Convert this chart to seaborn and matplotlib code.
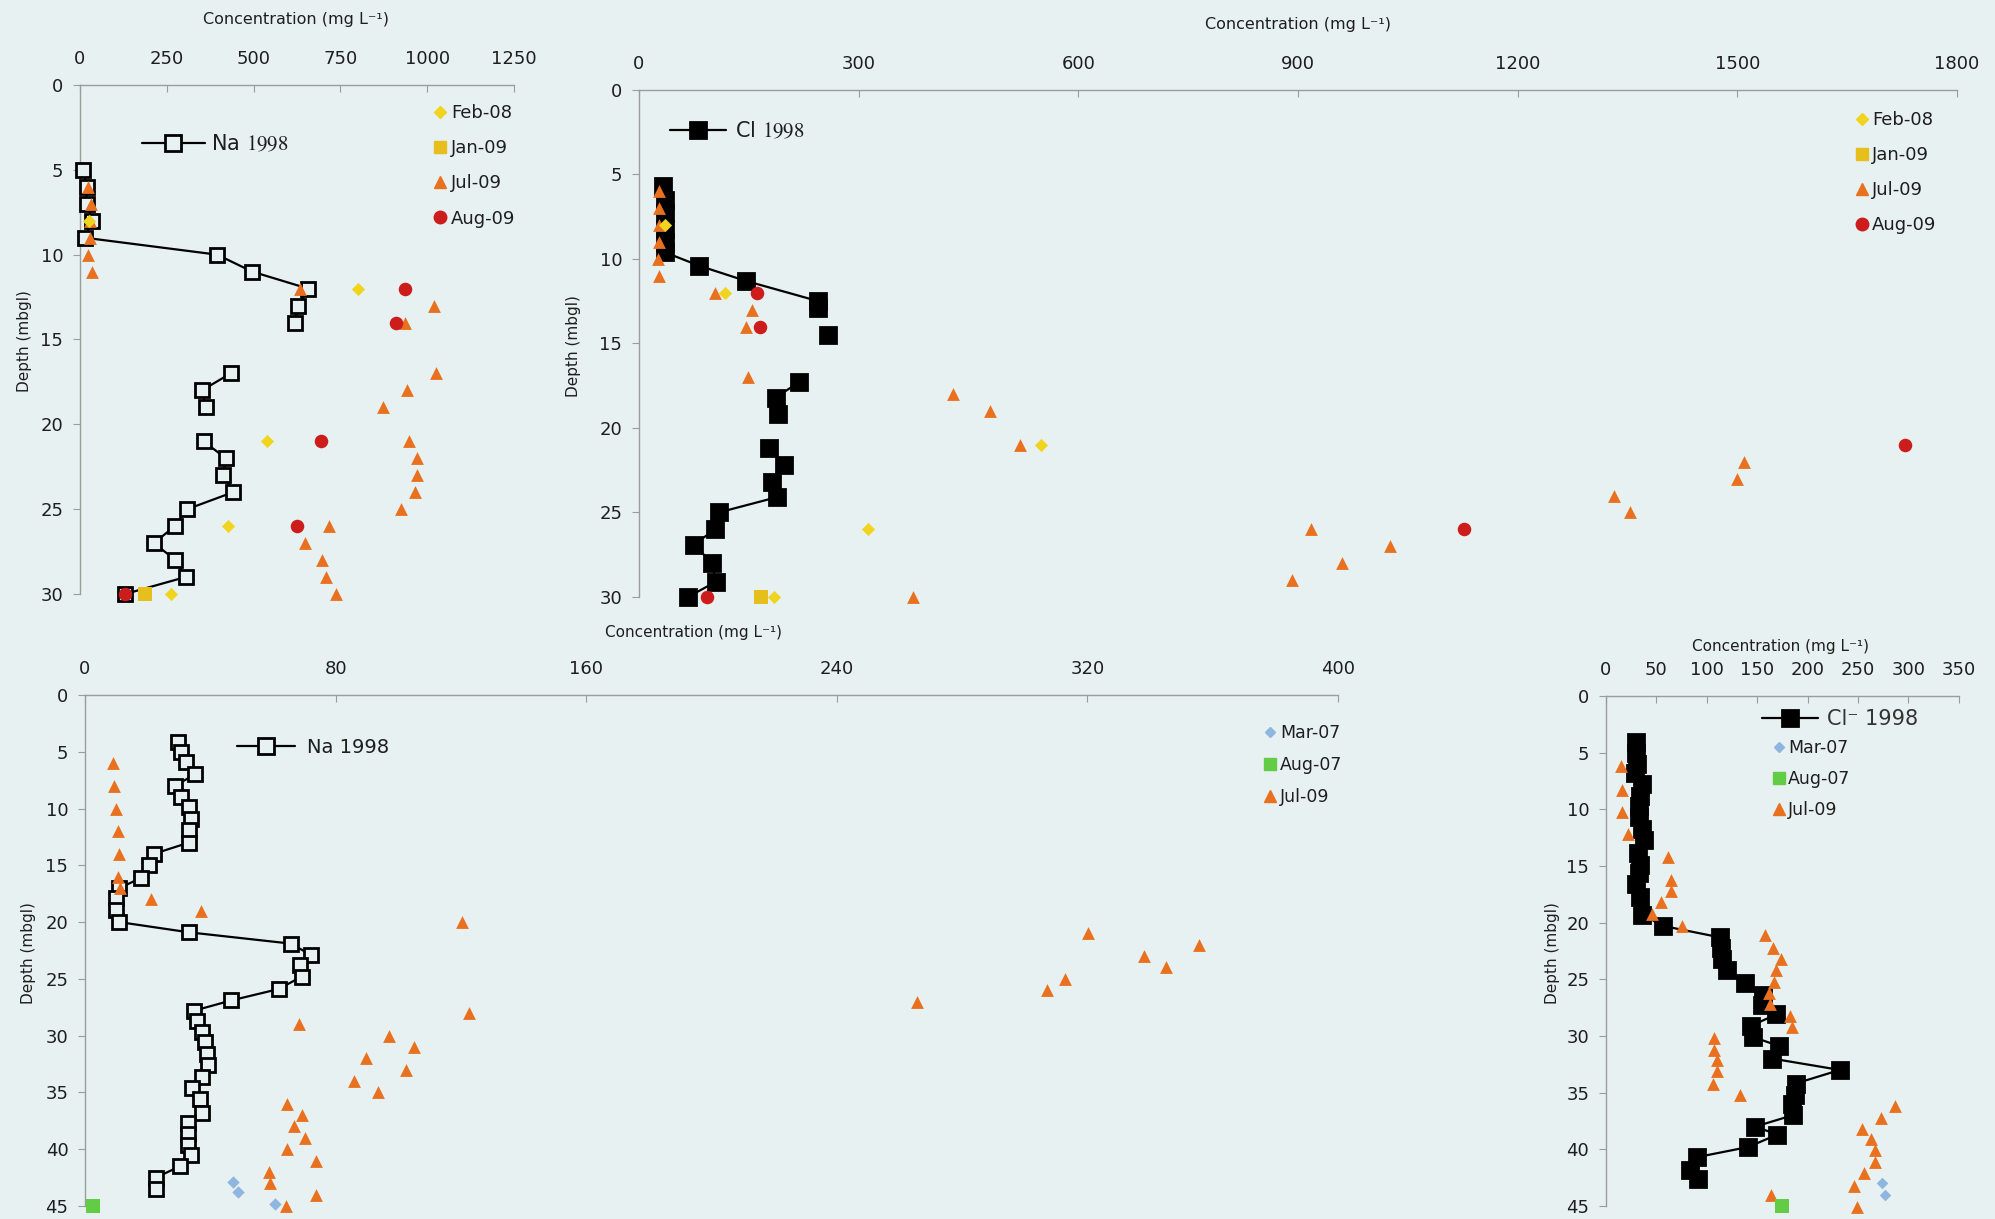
import numpy as np
import matplotlib
matplotlib.use("Agg")
import matplotlib.pyplot as plt
import seaborn as sns
from matplotlib.lines import Line2D
from matplotlib import font_manager as fm

nan = np.nan

# ---------------- Panel 1 : Na, well A (top left) ----------------
na1_depth = [5, 6, 7, 8, 9, 10, 11, 12, 13, 14, 15.5, 17, 18, 19, 20, 21, 22, 23, 24, 25, 26, 27, 28, 29, 30]
na1_conc = [10, 19, 19, 36, 13, 395, 496, 657, 628, 620, nan, 434, 351, 363, nan, 356, 420, 413, 441, 309, 273, 213, 275, 304, 130]
na1_feb08_depth = [8, 12, 21, 26, 30]
na1_feb08_conc = [25, 800, 540, 426, 262]
na1_jan09_depth = [30]
na1_jan09_conc = [187]
na1_jul09_depth = [6, 7, 8, 9, 10, 11, 12, 13, 14, 17, 18, 19, 21, 22, 23, 24, 25, 26, 27, 28, 29, 30]
na1_jul09_conc = [22, 32, 29, 29, 22, 34, 634, 1020, 935, 1025, 942, 872, 949, 970, 970, 966, 926, 717, 648, 698, 708, 737]
na1_aug09_depth = [12, 14, 21, 26, 30]
na1_aug09_conc = [937, 911, 693, 626, 130]

# ---------------- Panel 2 : Cl, well A (top right) ----------------
cl1_depth = [5.7, 6.5, 7.3, 8.2, 9.0, 9.6, 10.4, 11.3, 12.5, 12.9, 13.7, 14.5, 16, 17.3, 18.2, 19.2, 20.2,
             21.2, 22.2, 23.2, 24.1, 25.0, 26.0, 26.9, 28.0, 29.1, 30.0]
cl1_conc = [33, 36, 36, 36, 35, 35, 82, 146, 245, 245, nan, 258, nan, 218, 187, 190, nan,
            178, 198, 181, 188, 109, 104, 75, 100, 105, 67]
cl1_feb08_depth = [8, 12, 21, 26, 30]
cl1_feb08_conc = [35, 117, 549, 313, 184]
cl1_jan09_depth = [30]
cl1_jan09_conc = [166]
cl1_jul09_depth = [6, 7, 8, 9, 10, 11, 12, 13, 14, 17, 18, 19, 21, 22, 23, 24, 25, 26, 27, 28, 29, 30]
cl1_jul09_conc = [27, 27, 27, 27, 26, 27, 104, 154, 146, 149, 429, 480, 520, 1509, 1499, 1331, 1353, 918, 1026, 960, 892, 374]
cl1_aug09_depth = [12, 14, 21, 26, 30]
cl1_aug09_conc = [161, 165, 1729, 1127, 93]

# ---------------- Panel 3 : Na, well B (bottom left) ----------------
na2_depth = [4.1, 5.0, 5.9, 7.0, 8.0, 9.0, 9.9, 10.9, 11.9, 13.0, 14.0, 15.0, 16.1, 17.0, 17.9, 18.9, 20.0,
             20.9, 21.9, 22.9, 23.8, 24.8, 25.9, 26.9, 27.8, 28.7, 29.7, 30.6, 31.6, 32.6, 33.6, 34.6,
             35.6, 36.8, 37.7, 38.7, 39.6, 40.5, 41.5, 42.5, 43.5]
na2_conc = [29.7, 30.7, 32.1, 35.2, 28.6, 30.7, 33.2, 34.0, 33.2, 33.2, 21.9, 20.5, 18.0, 11.0, 9.9, 9.9, 10.9,
            33.1, 65.8, 72.1, 68.5, 69.2, 61.8, 46.7, 34.9, 35.6, 37.3, 38.2, 38.9, 39.2, 37.3, 34.2,
            36.6, 37.5, 32.8, 32.8, 32.8, 34.0, 30.4, 22.6, 22.6]
na2_mar07_depth = [42.9, 43.8, 44.8]
na2_mar07_conc = [47.4, 48.8, 60.8]
na2_aug07_depth = [45]
na2_aug07_conc = [2.7]
na2_jul09_depth = [6, 8, 10, 12, 14, 16, 17, 18, 19, 20, 21, 22, 23, 24, 25, 26, 27, 28, 29, 30, 31, 32,
                   33, 34, 35, 36, 37, 38, 39, 40, 41, 42, 43, 44, 45]
na2_jul09_conc = [8.8, 9.2, 9.8, 10.6, 10.9, 10.5, 11.3, 21.1, 37.1, 120.5, 320.3, 355.7, 338.2, 345.1, 312.7,
                  307.0, 265.5, 122.6, 68.2, 96.9, 105.0, 89.8, 102.6, 85.9, 93.6, 64.6, 69.2, 66.8, 70.3,
                  64.4, 73.8, 58.7, 59.0, 73.8, 64.2]

# ---------------- Panel 4 : Cl, well B (bottom right) ----------------
cl2_depth = [4.1, 5.0, 6.0, 6.8, 7.8, 8.8, 9.7, 10.7, 11.7, 12.7, 13.9, 14.9, 15.6, 16.6, 17.7, 19.3, 20.3,
             21.3, 22.2, 23.2, 24.2, 25.3, 26.4, 27.3, 28.1, 29.1, 30.1, 30.9, 32.0, 33.0, 34.2, 35.2,
             36.0, 37.0, 38.0, 38.7, 39.8, 40.7, 41.8, 42.6]
cl2_conc = [30, 30, 31, 29, 36, 34, 33, 33, 36, 38, 32, 34, 33, 30, 34, 36, 57,
            113, 114, 115, 120, 138, 156, 155, 169, 144, 146, 172, 165, 232, 188, 187,
            184, 185, 148, 170, 141, 90, 83, 91]
cl2_mar07_depth = [43, 44]
cl2_mar07_conc = [274, 277]
cl2_aug07_depth = [45]
cl2_aug07_conc = [175]
cl2_jul09_depth = [6.2, 8.3, 10.2, 12.2, 14.2, 16.2, 17.2, 18.2, 19.2, 20.3, 21.1, 22.2, 23.2, 24.2, 25.2,
                   26.2, 27.2, 28.2, 29.2, 30.2, 31.2, 32.1, 33.1, 34.2, 35.2, 36.2, 37.2, 38.2, 39.1,
                   40.1, 41.1, 42.1, 43.2, 44.0, 45.1]
cl2_jul09_conc = [15, 16, 16, 22, 62, 64, 64, 55, 46, 75, 158, 166, 174, 169, 167,
                  162, 163, 183, 184, 107, 107, 110, 110, 106, 133, 287, 273, 254, 263,
                  267, 267, 256, 246, 164, 249]

# ---------------- Style ----------------
BG = "#e8f1f1"
C_FEB08 = "#f0d41e"
C_JAN09 = "#e6bf1c"
C_JUL09 = "#e8701e"
C_AUG09 = "#cc1c1c"
C_MAR07 = "#8fb6e0"
C_AUG07 = "#62cc45"
TXT = "#1e1e1e"
SPINE = "#9c9c9c"

sns.set_theme(style="white")
avail = {f.name for f in fm.fontManager.ttflist}
base = "DejaVu Sans Condensed" if "DejaVu Sans Condensed" in avail else "DejaVu Sans"
plt.rcParams["font.family"] = [base, "DejaVu Sans"]
plt.rcParams["mathtext.fontset"] = "stix"

fig = plt.figure(figsize=(19.95, 12.19), dpi=100, facecolor=BG)


def make_ax(rect, xmax, xstep, ymax):
    ax = fig.add_axes(rect)
    ax.set_facecolor(BG)
    ax.set_xlim(0, xmax)
    ax.set_ylim(ymax, 0)
    ax.xaxis.tick_top()
    ax.set_xticks(np.arange(0, xmax + 1, xstep))
    ax.set_yticks(np.arange(0, ymax + 1, 5))
    for s in ["right", "bottom"]:
        ax.spines[s].set_visible(False)
    for s in ["top", "left"]:
        ax.spines[s].set_color(SPINE)
        ax.spines[s].set_linewidth(1.0)
    ax.tick_params(axis="x", direction="in", length=5, width=0.8, color=SPINE, pad=12,
                   labelsize=13, labelcolor=TXT, top=True, bottom=False)
    ax.tick_params(axis="y", direction="out", length=5, width=0.8, color=SPINE, pad=7,
                   labelsize=13, labelcolor=TXT, left=True)
    ax.grid(False)
    return ax


def sc(ax, x, y, marker, s, color, z=4):
    sns.scatterplot(x=x, y=y, ax=ax, marker=marker, s=s, color=color, edgecolor=color,
                    linewidth=0, legend=False, clip_on=False, zorder=z)


def profile(ax, x, y, filled, ms):
    ax.plot(x, y, color="black", lw=1.6, marker="s", ms=ms,
            mfc="black" if filled else BG, mec="black", mew=2.0, zorder=3, clip_on=False)


def mk(marker, ms, color):
    return Line2D([], [], ls="none", marker=marker, ms=ms, color=color, mec=color)


def prof_handle(filled, ms):
    return Line2D([], [], color="black", lw=1.6, marker="s", ms=ms,
                  mfc="black" if filled else BG, mec="black", mew=2.0)


leg_kw = dict(frameon=False, borderpad=0, borderaxespad=0, labelcolor=TXT)

# ---- Panel 1
ax1 = make_ax([0.0401, 0.5127, 0.2175, 0.4176], 1250, 250, 30)
profile(ax1, na1_conc, na1_depth, False, 10.5)
sc(ax1, na1_jul09_conc, na1_jul09_depth, "^", 85, C_JUL09)
sc(ax1, na1_feb08_conc, na1_feb08_depth, "D", 45, C_FEB08)
sc(ax1, na1_jan09_conc, na1_jan09_depth, "s", 90, C_JAN09)
sc(ax1, na1_aug09_conc, na1_aug09_depth, "o", 95, C_AUG09)
l1 = ax1.legend([prof_handle(False, 11)], [r"Na $\mathrm{1998}$"], loc="center left",
                bbox_to_anchor=(0.143, 0.884), fontsize=15, handlelength=3.0, handletextpad=0.3, **leg_kw)
ax1.add_artist(l1)
ax1.legend([mk("D", 6.5, C_FEB08), mk("s", 8.5, C_JAN09), mk("^", 8.5, C_JUL09), mk("o", 9, C_AUG09)],
           ["Feb-08", "Jan-09", "Jul-09", "Aug-09"], loc="center left", bbox_to_anchor=(0.813, 0.841),
           fontsize=13, handlelength=0.8, handletextpad=0.2, labelspacing=0.95, **leg_kw)

# ---- Panel 2
ax2 = make_ax([0.3203, 0.5103, 0.6607, 0.4159], 1800, 300, 30)
profile(ax2, cl1_conc, cl1_depth, True, 12)
sc(ax2, cl1_jul09_conc, cl1_jul09_depth, "^", 85, C_JUL09)
sc(ax2, cl1_feb08_conc, cl1_feb08_depth, "D", 45, C_FEB08)
sc(ax2, cl1_jan09_conc, cl1_jan09_depth, "s", 90, C_JAN09)
sc(ax2, cl1_aug09_conc, cl1_aug09_depth, "o", 95, C_AUG09)
l2 = ax2.legend([prof_handle(True, 11)], [r"Cl $\mathrm{1998}$"], loc="center left",
                bbox_to_anchor=(0.0235, 0.919), fontsize=15, handlelength=2.7, handletextpad=0.4, **leg_kw)
ax2.add_artist(l2)
ax2.legend([mk("D", 6.5, C_FEB08), mk("s", 8.5, C_JAN09), mk("^", 8.5, C_JUL09), mk("o", 9, C_AUG09)],
           ["Feb-08", "Jan-09", "Jul-09", "Aug-09"], loc="center left", bbox_to_anchor=(0.922, 0.837),
           fontsize=13, handlelength=0.8, handletextpad=0.2, labelspacing=0.95, **leg_kw)

# ---- Panel 3
ax3 = make_ax([0.0426, 0.0107, 0.6281, 0.4192], 400, 80, 45)
profile(ax3, na2_conc, na2_depth, False, 10)
sc(ax3, na2_jul09_conc, na2_jul09_depth, "^", 85, C_JUL09)
sc(ax3, na2_mar07_conc, na2_mar07_depth, "D", 40, C_MAR07)
sc(ax3, na2_aug07_conc, na2_aug07_depth, "s", 90, C_AUG07)
l3 = ax3.legend([prof_handle(False, 11)], ["Na 1998"], loc="center left",
                bbox_to_anchor=(0.121, 0.898), fontsize=14, handlelength=3.0, handletextpad=0.6, **leg_kw)
ax3.add_artist(l3)
ax3.legend([mk("D", 5.5, C_MAR07), mk("s", 8, C_AUG07), mk("^", 8.5, C_JUL09)],
           ["Mar-07", "Aug-07", "Jul-09"], loc="center left", bbox_to_anchor=(0.940, 0.863),
           fontsize=12.5, handlelength=0.8, handletextpad=0.2, labelspacing=0.8, **leg_kw)

# ---- Panel 4
ax4 = make_ax([0.8050, 0.0107, 0.1769, 0.4184], 350, 50, 45)
profile(ax4, cl2_conc, cl2_depth, True, 11)
sc(ax4, cl2_jul09_conc, cl2_jul09_depth, "^", 85, C_JUL09)
sc(ax4, cl2_mar07_conc, cl2_mar07_depth, "D", 35, C_MAR07)
sc(ax4, cl2_aug07_conc, cl2_aug07_depth, "s", 90, C_AUG07)
l4 = ax4.legend([prof_handle(True, 11)], ["Cl\u207b 1998"], loc="center left",
                bbox_to_anchor=(0.442, 0.955), fontsize=15, handlelength=2.7, handletextpad=0.4,
                frameon=False, borderpad=0, borderaxespad=0, labelcolor="#333333")
ax4.add_artist(l4)
ax4.legend([mk("D", 5.5, C_MAR07), mk("s", 8, C_AUG07), mk("^", 8.5, C_JUL09)],
           ["Mar-07", "Aug-07", "Jul-09"], loc="center left", bbox_to_anchor=(0.470, 0.837),
           fontsize=12.5, handlelength=0.8, handletextpad=0.15, labelspacing=0.75, **leg_kw)

# ---- Axis titles
lab = "Concentration (mg L\u207b\u00b9)"
fig.text(0.1484, 0.9836, lab, ha="center", va="center", fontsize=11.5, color=TXT)
fig.text(0.6506, 0.9795, lab, ha="center", va="center", fontsize=11.5, color=TXT)
fig.text(0.3474, 0.4815, lab, ha="center", va="center", fontsize=11, color=TXT)
fig.text(0.8927, 0.4700, lab, ha="center", va="center", fontsize=11, color=TXT)
for (x, y) in [(0.0125, 0.7203), (0.2877, 0.7162), (0.0145, 0.2182), (0.7784, 0.2182)]:
    fig.text(x, y, "Depth (mbgl)", ha="center", va="center", rotation=90, fontsize=11, color=TXT)

fig.savefig("out.png", dpi=100, facecolor=BG)
